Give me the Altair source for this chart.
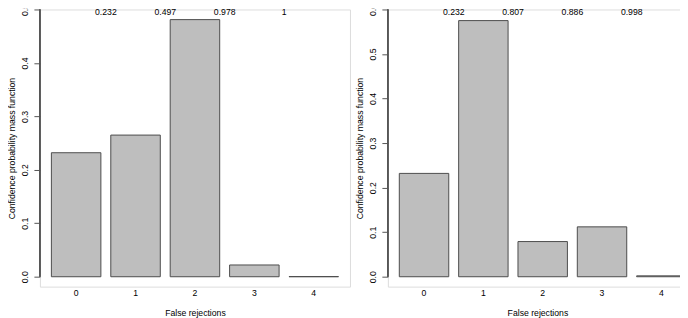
import altair as alt
import pandas as pd

# ---- data ----
categories = [0, 1, 2, 3, 4]

left_pmf = [0.232, 0.265, 0.481, 0.022, 0.0003]
left_cum_labels = ["0.232", "0.497", "0.978", "1"]
left_ticks = [0.0, 0.1, 0.2, 0.3, 0.4, 0.5]

right_pmf = [0.232, 0.575, 0.079, 0.112, 0.002]
right_cum_labels = ["0.232", "0.807", "0.886", "0.998"]
right_ticks = [0.0, 0.1, 0.2, 0.3, 0.4, 0.5, 0.6]

FONT = "Liberation Sans"
FS = 8.7
H = 278


def panel(pmf, cum_labels, ticks, ymin, width, pad_outer, align):
    bars_df = pd.DataFrame({"k": categories, "p": pmf})
    lab_df = pd.DataFrame({"k": categories[:len(cum_labels)], "lab": cum_labels,
                           "ytop": [ticks[-1]] * len(cum_labels)})

    xscale = alt.Scale(domain=categories, paddingInner=1 / 6,
                       paddingOuter=pad_outer, align=align)
    yscale = alt.Scale(domain=[ymin, ticks[-1]], nice=False, zero=False)

    xaxis = alt.Axis(labelAngle=0, ticks=False, domain=False, grid=False,
                     labelPadding=2, titlePadding=11,
                     labelFont=FONT, labelFontSize=FS, labelColor="black",
                     titleFont=FONT, titleFontSize=FS, titleColor="black",
                     titleFontWeight="normal")
    yaxis = alt.Axis(values=ticks, format=".1f", labelAngle=-90,
                     labelAlign="center", labelBaseline="alphabetic",
                     tickSize=6, labelPadding=6, domain=False, grid=False,
                     tickColor="#555555", tickWidth=1,
                     labelFont=FONT, labelFontSize=FS, labelColor="black",
                     titleFont=FONT, titleFontSize=FS, titleColor="black",
                     titleFontWeight="normal", titleAngle=-90,
                     titleBaseline="alphabetic", titleAlign="center",
                     titleX=-25, titleY=H / 2)

    bars = alt.Chart(bars_df).mark_bar(
        fill="#bebebe", stroke="#4d4d4d", strokeWidth=1
    ).encode(
        x=alt.X("k:O", scale=xscale, axis=xaxis, title="False rejections"),
        y=alt.Y("p:Q", scale=yscale, axis=yaxis,
                title="Confidence probability mass function"),
    )

    axis_line = alt.Chart(bars_df).mark_rule(color="#555555", strokeWidth=1).encode(
        x=alt.value(0),
        y=alt.datum(ticks[0]),
        y2=alt.datum(ticks[-1]),
    )

    labels = alt.Chart(lab_df).mark_text(
        font=FONT, fontSize=FS, color="black", baseline="alphabetic",
        align="center", dy=6, dx=5
    ).encode(
        x=alt.X("k:O", bandPosition=1),
        y=alt.Y("ytop:Q"),
        text="lab:N",
    )

    return alt.layer(bars, axis_line, labels).properties(width=width, height=H)


left = panel(left_pmf, left_cum_labels, left_ticks, -0.0185, 311, 0.1933, 0.5)
right = panel(right_pmf, right_cum_labels, right_ticks, -0.0222, 300, 0.104, 0.927)

chart = alt.hconcat(left, right, spacing=4).properties(
    padding={"left": -1, "top": -6, "right": -8, "bottom": 0}
).configure_view(stroke=None).configure(background="white")

chart.save("out.html", embed_options={"renderer": "svg", "actions": False})
